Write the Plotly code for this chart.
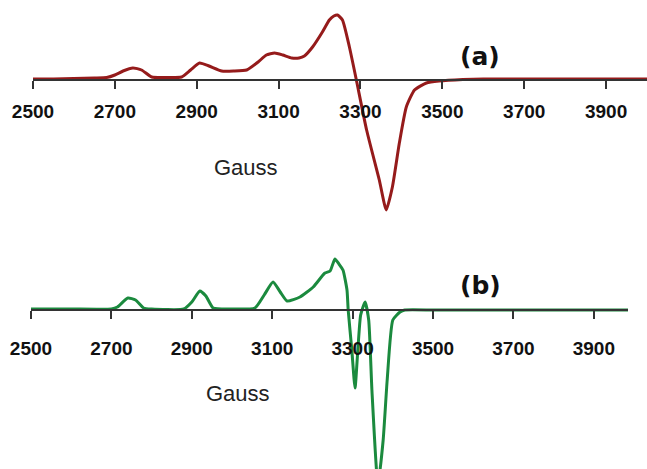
import plotly.graph_objects as go

# Spectrum (a) - field (Gauss) and intensity (arbitrary units)
field_a = [2500, 2550, 2600, 2650, 2680, 2700, 2720, 2744, 2765, 2790, 2820, 2863, 2885, 2907, 2930,
           2961, 2990, 3022, 3050, 3070, 3090, 3110, 3132, 3150, 3163, 3183, 3207, 3224, 3235, 3244,
           3256, 3273, 3290, 3315, 3346, 3363, 3378, 3395, 3412, 3432, 3461, 3492, 3550, 3600, 3700,
           3800, 3900, 4000]
signal_a = [1, 1, 1.5, 2, 2.5, 5, 9, 12, 10, 3, 2.5, 3, 10, 17, 14,
            9, 9, 10, 18, 25, 27, 25, 22, 22, 24, 33, 48, 60, 64, 65,
            60, 33, 0, -50, -100, -130, -107, -63, -27, -10, -3, -1, 0.5, 1, 1,
            1, 1, 1]

# Spectrum (b)
field_b = [2500, 2600, 2700, 2715, 2741, 2760, 2780, 2800, 2880, 2900, 2920, 2935, 2953, 3000,
           3057, 3080, 3102, 3120, 3137, 3169, 3202, 3231, 3244, 3256, 3266, 3276, 3286, 3289,
           3298, 3306, 3313, 3320, 3331, 3340, 3348, 3363, 3376, 3386, 3400, 3418, 3430, 3500,
           3600, 3700, 3800, 3900, 3985]
signal_b = [1, 1, 1, 3, 12, 10, 2, 1, 1, 8, 19, 14, 2, 1,
            2, 15, 28, 18, 9, 13, 23, 37, 39, 51, 46, 40, 20, 0,
            -40, -78, -40, -5, 8, -10, -80, -175, -130, -70, -10, -2, 0, 0,
            0, 0, 0, 0, 0]

tick_vals = [2500, 2700, 2900, 3100, 3300, 3500, 3700, 3900]
tick_text = ["2500", "2700", "2900", "3100", "3300", "3500", "3700", "3900"]

W, H = 647, 469
fig = go.Figure()
fig.add_trace(go.Scatter(x=field_a, y=signal_a, mode="lines", xaxis="x", yaxis="y",
                         line=dict(color="#951b1b", width=3, shape="spline", smoothing=0.5),
                         showlegend=False, hoverinfo="skip"))
fig.add_trace(go.Scatter(x=field_b, y=signal_b, mode="lines", xaxis="x2", yaxis="y2",
                         line=dict(color="#1b8a3e", width=3, shape="spline", smoothing=0.5),
                         showlegend=False, hoverinfo="skip"))

def py(p):
    return 1 - p / H

common_x = dict(tickmode="array", tickvals=tick_vals, ticktext=tick_text, ticks="outside",
                ticklen=8, tickwidth=2, tickcolor="#333", showline=True, linecolor="#333",
                linewidth=1.5, showgrid=False, zeroline=False, anchor="free", automargin=False,
                tickfont=dict(family="Liberation Sans", size=19, color="#111", weight="bold"))

def label(text, x, y, family, size, weight="normal", color="#222"):
    return dict(text=text, x=x / W, y=py(y), xref="paper", yref="paper", showarrow=False,
                xanchor="center", yanchor="middle",
                font=dict(family=family, size=size, color=color, weight=weight))

fig.update_layout(
    width=W, height=H, margin=dict(l=0, r=0, t=0, b=0, autoexpand=False),
    paper_bgcolor="white", plot_bgcolor="rgba(0,0,0,0)",
    xaxis=dict(common_x, domain=[33 / W, 1.0], range=[2500, 4000], position=py(80),
               ticklabelstandoff=6),
    yaxis=dict(domain=[py(230), 1.0], range=[-150, 80], visible=False, automargin=False),
    xaxis2=dict(common_x, domain=[31 / W, 628 / W], range=[2500, 3985], position=py(310),
                ticklabelstandoff=13),
    yaxis2=dict(domain=[0, py(235)], range=[-159, 75], visible=False, automargin=False),
    annotations=[
        label("Gauss", 246, 168, "Liberation Sans", 22),
        label("Gauss", 238, 393, "Liberation Sans", 22),
        label("(a)", 480, 56, "DejaVu Sans", 25, "bold", "#111"),
        label("(b)", 480, 285, "DejaVu Sans", 25, "bold", "#111"),
    ],
)

fig.write_html("out.html", post_script="document.body.style.margin='0';",
               config={"displayModeBar": False})
